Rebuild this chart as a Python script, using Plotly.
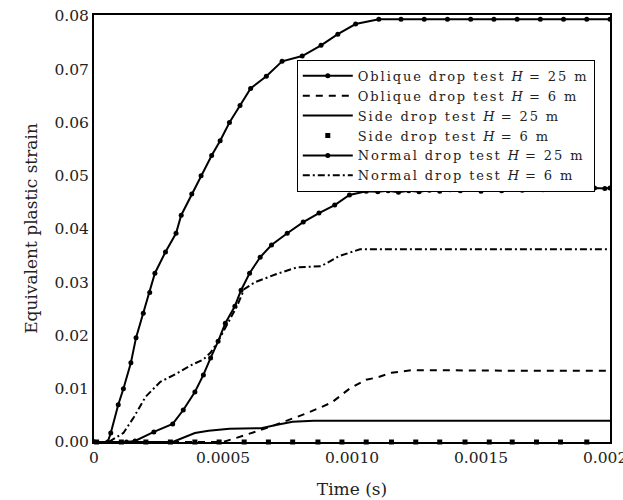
import plotly.graph_objects as go

# ---- data (time in s, equivalent plastic strain) ----
obl25_t = [0, 0.000053, 0.000065, 0.000094, 0.000114, 0.000143, 0.000163, 0.000191, 0.000216,
           0.000236, 0.000277, 0.000318, 0.000338, 0.000379, 0.000415, 0.000456, 0.000489,
           0.000525, 0.000566, 0.000607, 0.000668, 0.000729, 0.000807, 0.000880, 0.000945,
           0.001014, 0.001104, 0.00119, 0.00128, 0.00137, 0.00146, 0.00155, 0.00164,
           0.00173, 0.00182, 0.00191, 0.00200]
obl25_y = [0, 0, 0.0017, 0.0070, 0.0100, 0.0149, 0.0196, 0.0242, 0.0281,
           0.0317, 0.0357, 0.0392, 0.0426, 0.0466, 0.0500, 0.0538, 0.0566,
           0.0600, 0.0632, 0.0664, 0.0687, 0.0715, 0.0725, 0.0745, 0.0766,
           0.0785, 0.0794, 0.0794, 0.0794, 0.0794, 0.0794, 0.0794, 0.0794,
           0.0794, 0.0794, 0.0794, 0.0794]

obl6_t = [0, 0.00050, 0.00058, 0.00068, 0.00083, 0.000921, 0.000990, 0.001055, 0.001096,
          0.001153, 0.001234, 0.00140, 0.00160, 0.00180, 0.00200]
obl6_y = [0, 0, 0.0012, 0.0028, 0.0055, 0.0074, 0.0100, 0.0117, 0.0121,
          0.0130, 0.0135, 0.0134, 0.0134, 0.0134, 0.0134]

side25_t = [0, 0.000305, 0.000391, 0.000444, 0.000525, 0.000648, 0.000705, 0.000770,
            0.000851, 0.00120, 0.00160, 0.00200]
side25_y = [0, 0, 0.0017, 0.0021, 0.0025, 0.0026, 0.0032, 0.0038,
            0.0040, 0.0040, 0.0040, 0.0040]

side6_t = [0.00001, 0.000106, 0.000201, 0.000296, 0.000391, 0.000485, 0.000582, 0.000676,
           0.000770, 0.000868, 0.000961, 0.001055, 0.001153, 0.001247, 0.001340, 0.001438,
           0.001532, 0.001621, 0.001715, 0.001808, 0.001910]
side6_y = [0.0] * len(side6_t)

norm25_t = [0, 0.000126, 0.000159, 0.000232, 0.000305, 0.000346, 0.000391, 0.000424,
            0.000452, 0.000481, 0.000509, 0.000546, 0.000570, 0.000603, 0.000644, 0.000688,
            0.000749, 0.000811, 0.000872, 0.000933, 0.000990, 0.001055,
            0.00110, 0.00114, 0.00118, 0.00122, 0.00126, 0.00130, 0.00134, 0.00138,
            0.00142, 0.00146, 0.00150, 0.00154, 0.00158, 0.00162, 0.00166, 0.00170,
            0.00174, 0.00178, 0.00182, 0.00186, 0.00190, 0.00194, 0.00198, 0.00200]
norm25_y = [0, 0, 0.0002, 0.0019, 0.0034, 0.0060, 0.0094, 0.0126,
            0.0158, 0.0189, 0.0223, 0.0255, 0.0285, 0.0317, 0.0347, 0.0370,
            0.0392, 0.0413, 0.0430, 0.0445, 0.0464, 0.0471,
            0.0470, 0.0472, 0.0469, 0.0472, 0.0470, 0.0473, 0.0471, 0.0474,
            0.0472, 0.0476, 0.0471, 0.0477, 0.0472, 0.0478, 0.0473, 0.0479,
            0.0474, 0.0478, 0.0475, 0.0477, 0.0476, 0.0477, 0.0476, 0.0477]

norm6_t = [0, 0.000057, 0.000114, 0.000155, 0.000200, 0.000257, 0.000318, 0.000379,
           0.000424, 0.000452, 0.000481, 0.000521, 0.000554, 0.000582, 0.000623, 0.000705,
           0.000786, 0.000880, 0.000949, 0.001031, 0.00140, 0.00200]
norm6_y = [0, 0, 0.0017, 0.0047, 0.0085, 0.0113, 0.0128, 0.0145,
           0.0155, 0.0168, 0.0189, 0.0225, 0.0255, 0.0287, 0.0300, 0.0315,
           0.0328, 0.0330, 0.0349, 0.0362, 0.0362, 0.0362]

x_ticks = [0, 0.0005, 0.0010, 0.0015, 0.0020]
x_labels = ["0", "0.0005", "0.0010", "0.0015", "0.0020"]
y_ticks = [0, 0.01, 0.02, 0.03, 0.04, 0.05, 0.06, 0.07, 0.08]
y_labels = ["0.00", "0.01", "0.02", "0.03", "0.04", "0.05", "0.06", "0.07", "0.08"]

FONT = "DejaVu Serif"
BLK = "black"
TXT = "#222"


def lg(a, b):
    return ('<span style="letter-spacing:1.9px">' + a + ' </span><i>H</i>'
            '<span style="letter-spacing:1.9px"> = ' + b + ' m</span>')


fig = go.Figure()
fig.add_trace(go.Scatter(x=obl25_t, y=obl25_y, mode="lines+markers",
                         name=lg("Oblique drop test", "25"),
                         line=dict(color=BLK, width=2), marker=dict(color=BLK, size=5)))
fig.add_trace(go.Scatter(x=obl6_t, y=obl6_y, mode="lines",
                         name=lg("Oblique drop test", "6"),
                         line=dict(color=BLK, width=2, dash="7px,6px")))
fig.add_trace(go.Scatter(x=side25_t, y=side25_y, mode="lines",
                         name=lg("Side drop test", "25"),
                         line=dict(color=BLK, width=2)))
fig.add_trace(go.Scatter(x=side6_t, y=side6_y, mode="markers",
                         name=lg("Side drop test", "6"),
                         marker=dict(color=BLK, size=5, symbol="square"),
                         cliponaxis=False))
fig.add_trace(go.Scatter(x=norm25_t, y=norm25_y, mode="lines+markers",
                         name=lg("Normal drop test", "25"),
                         line=dict(color=BLK, width=2), marker=dict(color=BLK, size=5)))
fig.add_trace(go.Scatter(x=norm6_t, y=norm6_y, mode="lines",
                         name=lg("Normal drop test", "6"),
                         line=dict(color=BLK, width=2, dash="7px,3px,2px,3px")))

axis_common = dict(showgrid=False, zeroline=False, showline=True, linecolor=BLK,
                   linewidth=2, mirror=True, ticks="", ticklabeloverflow="allow",
                   automargin=False,
                   tickfont=dict(family=FONT, size=15.5, color=TXT))

fig.update_layout(
    width=623, height=500,
    margin=dict(l=94, r=13, t=15, b=58, autoexpand=False),
    paper_bgcolor="white", plot_bgcolor="white",
    font=dict(family=FONT, size=15, color=BLK),
    showlegend=True,
    legend=dict(x=0.393, y=0.895, xanchor="left", yanchor="top",
                bgcolor="white", bordercolor=BLK, borderwidth=1,
                font=dict(family=FONT, size=13, color=TXT),
                itemwidth=50, tracegroupgap=0),
)
fig.update_xaxes(range=[0, 0.002], tickvals=x_ticks, ticktext=x_labels,
                 title=dict(text="Time (s)", font=dict(family=FONT, size=17, color=TXT), standoff=18),
                 **axis_common)
fig.update_yaxes(range=[0, 0.0802], tickvals=y_ticks, ticktext=y_labels,
                 title=dict(text="Equivalent plastic strain", font=dict(family=FONT, size=17, color=TXT), standoff=12),
                 **axis_common)

fig.write_html("out.html")
